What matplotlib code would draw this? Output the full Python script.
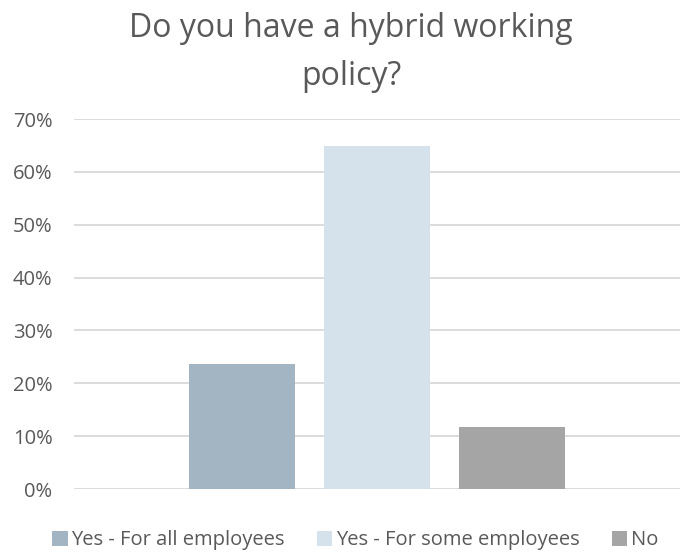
import matplotlib
matplotlib.use("Agg")
import matplotlib.pyplot as plt
from matplotlib.patches import Patch
from matplotlib.ticker import FuncFormatter

categories = ["Yes - For all employees", "Yes - For some employees", "No"]
values = [23.7, 65.0, 11.7]
colors = ["#A3B5C3", "#D5E2EB", "#A5A5A5"]
yticks = [0, 10, 20, 30, 40, 50, 60, 70]
title = "Do you have a hybrid working\npolicy?"

text_color = "#595959"
plt.rcParams["font.family"] = ["Open Sans", "DejaVu Sans"]

fig = plt.figure(figsize=(6.8, 5.54), dpi=100)
ax = fig.add_axes([0.1088, 0.1173, 0.8912, 0.6677])

x = list(range(len(categories)))
ax.bar(x, values, width=0.79, color=colors, zorder=3)

ax.set_ylim(0, 70)
ax.set_xlim(-1.244, 3.244)
ax.set_yticks(yticks)
ax.yaxis.set_major_formatter(FuncFormatter(lambda v, p: f"{v:.0f}%"))
ax.set_xticks([])
ax.grid(axis="y", color="#D9D9D9", linewidth=1.3, zorder=0)
for s in ax.spines.values():
    s.set_visible(False)
ax.tick_params(axis="y", length=0, pad=15.5, labelsize=14.5, labelcolor=text_color)

fig.text(0.516, 0.979, title, ha="center", va="top", fontsize=23,
         color=text_color, linespacing=1.6)

handles = [Patch(facecolor=c, edgecolor="none") for c in colors]
leg = fig.legend(handles, categories, loc="center", bbox_to_anchor=(0.523, 0.025),
                 ncol=3, frameon=False, fontsize=14.5, handlelength=0.75,
                 handleheight=0.75, handletextpad=0.2, columnspacing=1.6)
for t in leg.get_texts():
    t.set_color(text_color)

fig.savefig("out.png", dpi=100)
